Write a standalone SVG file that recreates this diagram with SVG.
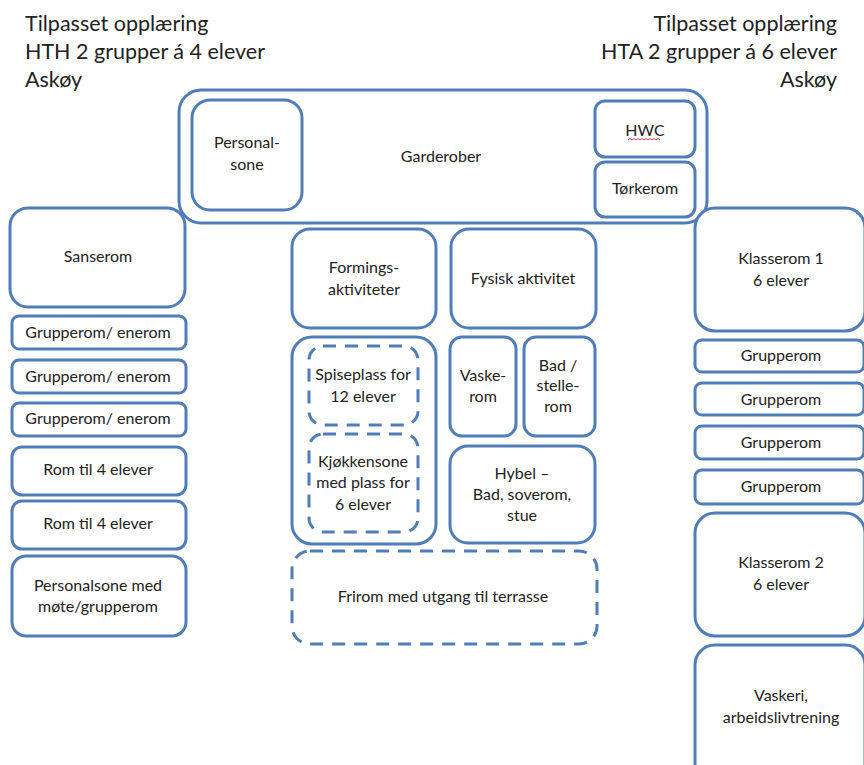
<svg xmlns="http://www.w3.org/2000/svg" width="864" height="765" viewBox="0 0 864 765">
  <style>
    .room { fill: #ffffff; stroke: #4f7dba; stroke-width: 3; }
    .zone { fill: none; stroke: #4f7dba; stroke-width: 3; stroke-dasharray: 13 9; }
    .lbl { font-family: Lato, "Open Sans", sans-serif; font-size: 16px; fill: #222222; text-anchor: middle; }
    .title { font-family: Lato, "Open Sans", sans-serif; font-size: 21.5px; fill: #222222; }
  </style>
  <rect width="864" height="765" fill="#ffffff"/>

  <!-- headings -->
  <g id="heading-left">
    <text class="title" x="25" y="31">Tilpasset opplæring</text>
    <text class="title" x="25" y="59">HTH 2 grupper á 4 elever</text>
    <text class="title" x="25" y="87">Askøy</text>
  </g>
  <g id="heading-right">
    <text class="title" x="837" y="31" text-anchor="end">Tilpasset opplæring</text>
    <text class="title" x="837" y="59" text-anchor="end">HTA 2 grupper á 6 elever</text>
    <text class="title" x="837" y="87" text-anchor="end">Askøy</text>
  </g>

  <!-- entrance block -->
  <g id="garderober">
    <rect class="room" x="179" y="90" width="528" height="133" rx="22"/>
    <text class="lbl" x="441" y="162">Garderober</text>
  </g>
  <g id="personalsone">
    <rect class="room" x="192" y="100" width="110" height="110" rx="18"/>
    <text class="lbl" x="247" y="148">Personal-</text>
    <text class="lbl" x="247" y="170">sone</text>
  </g>
  <g id="hwc">
    <rect class="room" x="595" y="101" width="100" height="56" rx="10"/>
    <text class="lbl" x="645" y="136">HWC</text>
    <path d="M628 140 l2 -1.5 l2 1.5 l2 -1.5 l2 1.5 l2 -1.5 l2 1.5 l2 -1.5 l2 1.5 l2 -1.5 l2 1.5 l2 -1.5 l2 1.5 l2 -1.5 l2 1.5 l2 -1.5 l2 1.5" fill="none" stroke="#d03030" stroke-width="0.9"/>
  </g>
  <g id="torkerom">
    <rect class="room" x="595" y="162" width="100" height="55" rx="10"/>
    <text class="lbl" x="645" y="194">Tørkerom</text>
  </g>

  <!-- left wing -->
  <g id="sanserom">
    <rect class="room" x="10" y="208" width="175" height="99" rx="18"/>
    <text class="lbl" x="98" y="262">Sanserom</text>
  </g>
  <g id="grupperom-enerom-1">
    <rect class="room" x="12" y="316" width="174" height="33" rx="7"/>
    <text class="lbl" x="98" y="338">Grupperom/ enerom</text>
  </g>
  <g id="grupperom-enerom-2">
    <rect class="room" x="12" y="360" width="174" height="33" rx="7"/>
    <text class="lbl" x="98" y="382">Grupperom/ enerom</text>
  </g>
  <g id="grupperom-enerom-3">
    <rect class="room" x="12" y="403" width="174" height="33" rx="7"/>
    <text class="lbl" x="98" y="424">Grupperom/ enerom</text>
  </g>
  <g id="rom-4-elever-1">
    <rect class="room" x="12" y="447" width="174" height="48" rx="10"/>
    <text class="lbl" x="98" y="475">Rom til 4 elever</text>
  </g>
  <g id="rom-4-elever-2">
    <rect class="room" x="12" y="501" width="174" height="48" rx="10"/>
    <text class="lbl" x="98" y="529">Rom til 4 elever</text>
  </g>
  <g id="personalsone-mote">
    <rect class="room" x="12" y="556" width="174" height="80" rx="14"/>
    <text class="lbl" x="98" y="591">Personalsone med</text>
    <text class="lbl" x="98" y="612">møte/grupperom</text>
  </g>

  <!-- centre -->
  <g id="formingsaktiviteter">
    <rect class="room" x="292" y="229" width="144" height="99" rx="18"/>
    <text class="lbl" x="364" y="273">Formings-</text>
    <text class="lbl" x="364" y="295">aktiviteter</text>
  </g>
  <g id="fysisk-aktivitet">
    <rect class="room" x="451" y="229" width="145" height="99" rx="18"/>
    <text class="lbl" x="523" y="284">Fysisk aktivitet</text>
  </g>
  <g id="kjokken">
    <rect class="room" x="292" y="337" width="144" height="207" rx="20"/>
  </g>
  <g id="spiseplass">
    <rect class="zone" x="309" y="346" width="109" height="79" rx="14"/>
    <text class="lbl" x="363" y="380">Spiseplass for</text>
    <text class="lbl" x="363" y="402">12 elever</text>
  </g>
  <g id="kjokkensone">
    <rect class="zone" x="309" y="434" width="109" height="98" rx="14"/>
    <text class="lbl" x="363" y="467">Kjøkkensone</text>
    <text class="lbl" x="363" y="488">med plass for</text>
    <text class="lbl" x="363" y="510">6 elever</text>
  </g>
  <g id="vaskerom">
    <rect class="room" x="450" y="337" width="66" height="99" rx="12"/>
    <text class="lbl" x="483" y="381">Vaske-</text>
    <text class="lbl" x="483" y="402">rom</text>
  </g>
  <g id="bad-stellerom">
    <rect class="room" x="524" y="337" width="71" height="99" rx="12"/>
    <text class="lbl" x="558" y="371">Bad /</text>
    <text class="lbl" x="558" y="391">stelle-</text>
    <text class="lbl" x="558" y="412">rom</text>
  </g>
  <g id="hybel">
    <rect class="room" x="450" y="446" width="145" height="97" rx="18"/>
    <text class="lbl" x="522" y="479">Hybel –</text>
    <text class="lbl" x="522" y="500">Bad, soverom,</text>
    <text class="lbl" x="522" y="521">stue</text>
  </g>
  <g id="frirom">
    <rect class="zone" x="292" y="551" width="305" height="93" rx="18"/>
    <text class="lbl" x="443" y="602">Frirom med utgang til terrasse</text>
  </g>

  <!-- right wing -->
  <g id="klasserom-1">
    <rect class="room" x="695" y="208" width="170" height="123" rx="20"/>
    <text class="lbl" x="781" y="264">Klasserom 1</text>
    <text class="lbl" x="781" y="286">6 elever</text>
  </g>
  <g id="grupperom-1">
    <rect class="room" x="695" y="340" width="169" height="32" rx="7"/>
    <text class="lbl" x="781" y="361">Grupperom</text>
  </g>
  <g id="grupperom-2">
    <rect class="room" x="695" y="383" width="169" height="32" rx="7"/>
    <text class="lbl" x="781" y="405">Grupperom</text>
  </g>
  <g id="grupperom-3">
    <rect class="room" x="695" y="426" width="169" height="33" rx="7"/>
    <text class="lbl" x="781" y="448">Grupperom</text>
  </g>
  <g id="grupperom-4">
    <rect class="room" x="695" y="470" width="169" height="34" rx="7"/>
    <text class="lbl" x="781" y="492">Grupperom</text>
  </g>
  <g id="klasserom-2">
    <rect class="room" x="695" y="513" width="170" height="123" rx="20"/>
    <text class="lbl" x="781" y="568">Klasserom 2</text>
    <text class="lbl" x="781" y="590">6 elever</text>
  </g>
  <g id="vaskeri">
    <rect class="room" x="695" y="645" width="170" height="140" rx="20"/>
    <text class="lbl" x="781" y="701">Vaskeri,</text>
    <text class="lbl" x="781" y="723">arbeidslivtrening</text>
  </g>
</svg>
